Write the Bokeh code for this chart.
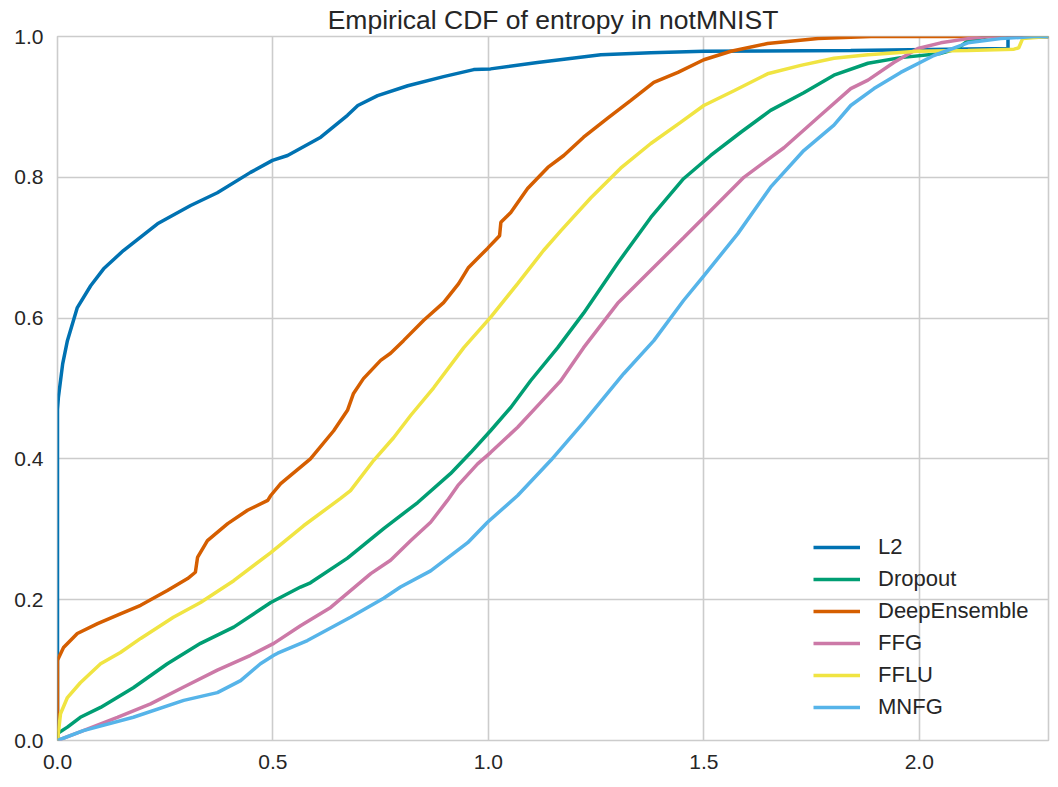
from bokeh.plotting import figure
from bokeh.models import Legend, LegendItem, FixedTicker, PrintfTickFormatter, Range1d
from bokeh.embed import file_html
from bokeh.resources import INLINE

title_text = "Empirical CDF of entropy in notMNIST"
series_names = ["L2", "Dropout", "DeepEnsemble", "FFG", "FFLU", "MNFG"]
series_colors = ["#0072B2", "#009E73", "#D55E00", "#CC79A7", "#F0E442", "#56B4E9"]
x_ticks = [0.0, 0.5, 1.0, 1.5, 2.0]
y_ticks = [0.0, 0.2, 0.4, 0.6, 0.8, 1.0]

l2_x = [0, 0, 0.002, 0.012, 0.023, 0.046, 0.077, 0.107, 0.153, 0.232, 0.309, 0.371, 0.448, 0.499,
        0.534, 0.611, 0.673, 0.697, 0.743, 0.813, 0.896, 0.966, 1.005, 1.114, 1.261, 1.377, 1.500,
        1.841, 2.206, 2.206, 2.30]
l2_y = [0, 0.47, 0.487, 0.535, 0.568, 0.615, 0.646, 0.670, 0.696, 0.734, 0.760, 0.778, 0.807, 0.824,
        0.831, 0.857, 0.888, 0.902, 0.916, 0.930, 0.943, 0.953, 0.954, 0.963, 0.974, 0.977, 0.979,
        0.980, 0.983, 1.0, 1.0]

dropout_x = [0, 0, 0.023, 0.053, 0.100, 0.176, 0.255, 0.332, 0.409, 0.495, 0.564, 0.587, 0.673, 0.757,
             0.836, 0.912, 0.959, 1.005, 1.052, 1.098, 1.161, 1.221, 1.300, 1.377, 1.453, 1.516, 1.586,
             1.655, 1.732, 1.802, 1.881, 1.957, 2.050, 2.090, 2.113, 2.159, 2.30]
dropout_y = [0, 0.010, 0.019, 0.033, 0.047, 0.075, 0.109, 0.138, 0.161, 0.196, 0.218, 0.224, 0.259, 0.301,
             0.338, 0.379, 0.409, 0.440, 0.473, 0.511, 0.558, 0.607, 0.678, 0.743, 0.798, 0.831, 0.864,
             0.895, 0.920, 0.945, 0.962, 0.970, 0.976, 0.983, 0.994, 1.0, 1.0]

deep_x = [0, 0, 0.014, 0.046, 0.093, 0.146, 0.193, 0.255, 0.302, 0.320, 0.325, 0.348, 0.395, 0.441,
          0.488, 0.495, 0.518, 0.587, 0.641, 0.673, 0.687, 0.710, 0.750, 0.773, 0.803, 0.850, 0.896,
          0.931, 0.954, 0.998, 1.026, 1.029, 1.052, 1.091, 1.138, 1.175, 1.221, 1.277, 1.330, 1.384,
          1.440, 1.500, 1.563, 1.648, 1.765, 1.841, 1.888, 2.30]
deep_y = [0, 0.114, 0.132, 0.152, 0.166, 0.180, 0.192, 0.213, 0.230, 0.239, 0.260, 0.284, 0.308, 0.327,
          0.341, 0.348, 0.365, 0.400, 0.440, 0.469, 0.493, 0.514, 0.540, 0.550, 0.568, 0.597, 0.622,
          0.649, 0.672, 0.699, 0.717, 0.736, 0.750, 0.784, 0.814, 0.831, 0.857, 0.884, 0.909, 0.935,
          0.949, 0.967, 0.979, 0.990, 0.997, 0.999, 1.0, 1.0]

ffg_x = [0, 0.060, 0.139, 0.216, 0.293, 0.371, 0.448, 0.502, 0.564, 0.634, 0.727, 0.773, 0.820, 0.866,
         0.905, 0.929, 0.975, 1.005, 1.068, 1.121, 1.168, 1.221, 1.300, 1.377, 1.453, 1.500, 1.593,
         1.686, 1.765, 1.841, 1.881, 1.941, 1.997, 2.050, 2.113, 2.159, 2.30]
ffg_y = [0, 0.014, 0.033, 0.052, 0.076, 0.100, 0.121, 0.138, 0.163, 0.189, 0.237, 0.256, 0.284, 0.310,
         0.341, 0.362, 0.393, 0.409, 0.445, 0.480, 0.511, 0.558, 0.621, 0.668, 0.714, 0.743, 0.800,
         0.842, 0.885, 0.926, 0.938, 0.963, 0.983, 0.991, 0.997, 1.0, 1.0]

fflu_x = [0, 0.007, 0.023, 0.053, 0.100, 0.146, 0.193, 0.269, 0.332, 0.409, 0.495, 0.571, 0.657, 0.680,
          0.734, 0.780, 0.820, 0.873, 0.943, 1.005, 1.068, 1.128, 1.168, 1.238, 1.307, 1.377, 1.446,
          1.500, 1.570, 1.648, 1.725, 1.802, 1.881, 1.997, 2.113, 2.220, 2.231, 2.240, 2.30]
fflu_y = [0, 0.038, 0.061, 0.082, 0.109, 0.125, 0.145, 0.175, 0.196, 0.227, 0.267, 0.305, 0.344, 0.355,
          0.398, 0.430, 0.462, 0.501, 0.558, 0.601, 0.649, 0.696, 0.724, 0.771, 0.813, 0.848, 0.878,
          0.902, 0.923, 0.947, 0.959, 0.969, 0.974, 0.979, 0.980, 0.982, 0.984, 0.997, 1.0]

mnfg_x = [0, 0.060, 0.176, 0.293, 0.371, 0.425, 0.471, 0.502, 0.511, 0.580, 0.680, 0.757, 0.796, 0.866,
          0.952, 0.998, 1.068, 1.145, 1.221, 1.314, 1.384, 1.453, 1.500, 1.579, 1.655, 1.732, 1.802,
          1.841, 1.895, 1.957, 2.034, 2.113, 2.189, 2.266, 2.30]
mnfg_y = [0, 0.014, 0.033, 0.057, 0.068, 0.085, 0.109, 0.121, 0.124, 0.142, 0.175, 0.202, 0.218, 0.241,
          0.281, 0.310, 0.348, 0.398, 0.452, 0.521, 0.568, 0.625, 0.660, 0.720, 0.786, 0.838, 0.874,
          0.902, 0.926, 0.949, 0.973, 0.991, 0.997, 1.0, 1.0]

series_x = [l2_x, dropout_x, deep_x, ffg_x, fflu_x, mnfg_x]
series_y = [l2_y, dropout_y, deep_y, ffg_y, fflu_y, mnfg_y]

FONT = "Liberation Sans"
TXT = "#262626"
GRID = "#cccccc"

p = figure(width=1050, height=779, x_range=Range1d(0, 2.3), y_range=Range1d(0, 1),
           output_backend="svg", toolbar_location=None, title=title_text,
           min_border_left=57, min_border_right=2, min_border_bottom=39, min_border_top=0)

p.background_fill_color = "white"
p.border_fill_color = "white"
p.outline_line_color = GRID
p.outline_line_width = 1.6

p.title.text_font = FONT
p.title.text_font_size = "26.5px"
p.title.text_font_style = "normal"
p.title.text_color = TXT
p.title.align = "center"
p.title.standoff = 4

for ax in (p.xaxis[0], p.yaxis[0]):
    ax.axis_line_color = None
    ax.major_tick_line_color = None
    ax.minor_tick_line_color = None
    ax.major_tick_out = 0
    ax.major_tick_in = 0
    ax.minor_tick_out = 0
    ax.major_label_text_font = FONT
    ax.major_label_text_font_size = "21px"
    ax.major_label_text_color = TXT

p.xaxis[0].ticker = FixedTicker(ticks=x_ticks)
p.yaxis[0].ticker = FixedTicker(ticks=y_ticks)
p.xaxis[0].formatter = PrintfTickFormatter(format="%.1f")
p.yaxis[0].formatter = PrintfTickFormatter(format="%.1f")
p.xaxis[0].major_label_standoff = 14
p.yaxis[0].major_label_standoff = 14

p.xgrid.grid_line_color = GRID
p.ygrid.grid_line_color = GRID
p.xgrid.grid_line_width = 1.6
p.ygrid.grid_line_width = 1.6

items = []
for name, col, xs, ys in zip(series_names, series_colors, series_x, series_y):
    r = p.line(xs, ys, line_color=col, line_width=3.5)
    items.append(LegendItem(label=name, renderers=[r]))

legend = Legend(items=items, location=(756, 20), background_fill_alpha=0,
                border_line_color=None, padding=0, margin=0, spacing=6,
                glyph_width=47, glyph_height=24, label_height=24, label_standoff=18,
                label_text_font=FONT, label_text_font_size="22px", label_text_color=TXT)
p.add_layout(legend, "center")

open("out.html", "w").write(file_html(p, INLINE))
